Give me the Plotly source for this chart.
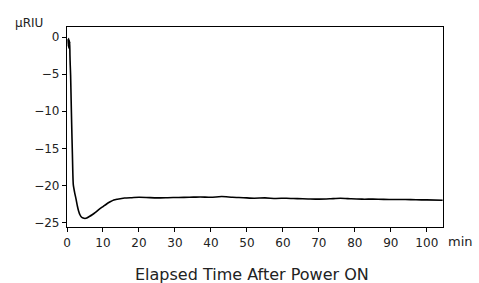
import plotly.graph_objects as go

# Elapsed time (min) and signal (µRIU)
time_min = [0.30, 0.38, 0.45, 0.52, 0.60, 0.68, 0.75, 0.82, 0.90, 1.0, 1.15, 1.3, 1.5, 1.75, 2.1,
            2.5, 2.9, 3.2, 3.6, 4.0, 4.5, 5.0, 5.5, 6.0, 7.0, 8.0, 9.0, 10.0, 11.0, 12.0,
            13.0, 14.0, 16.0, 18.0, 20.0, 22.0, 25.0, 28.0, 31.0, 34.0, 37.0, 40.0, 43.0,
            46.0, 49.0, 52.0, 55.0, 58.0, 61.0, 64.0, 67.0, 70.0, 73.0, 76.0, 79.0, 82.0,
            85.0, 88.0, 91.0, 94.0, 97.0, 100.0, 104.4]
signal_uriu = [-0.3, -1.3, -0.2, -1.5, -0.4, -1.2, -0.6, -2.5, -3.8, -5.1, -8.5, -11.8, -15.8, -19.9, -20.9,
               -21.8, -22.8, -23.4, -23.95, -24.25, -24.4, -24.45, -24.4, -24.25, -23.95, -23.6, -23.2, -22.85, -22.5, -22.2,
               -21.95, -21.85, -21.7, -21.65, -21.6, -21.62, -21.68, -21.65, -21.62, -21.6, -21.55, -21.6, -21.5,
               -21.6, -21.65, -21.72, -21.68, -21.75, -21.72, -21.78, -21.82, -21.85, -21.8, -21.72, -21.8, -21.85,
               -21.85, -21.88, -21.9, -21.9, -21.93, -21.95, -22.0]

x_ticks = [0, 10, 20, 30, 40, 50, 60, 70, 80, 90, 100]
y_ticks = [0, -5, -10, -15, -20, -25]

font_family = "DejaVu Sans"
text_color = "#222"

fig = go.Figure()
fig.add_trace(go.Scatter(x=time_min, y=signal_uriu, mode="lines",
                         line=dict(color="black", width=1.6, shape="spline", smoothing=0.6),
                         showlegend=False, hoverinfo="skip"))

axis_common = dict(ticks="outside", ticklen=4, tickcolor="black", showline=True,
                   linecolor="black", linewidth=1.2, mirror=True, showgrid=False,
                   zeroline=False, tickfont=dict(size=12, family=font_family, color=text_color))

fig.update_layout(
    width=479, height=283,
    margin=dict(l=67, r=36, t=27, b=56),
    paper_bgcolor="white", plot_bgcolor="white",
    font=dict(family=font_family, size=12, color=text_color),
    xaxis=dict(range=[0, 104.5], tickvals=x_ticks, **axis_common),
    yaxis=dict(range=[-25.6, 1.35], tickvals=y_ticks, **axis_common),
    annotations=[
        dict(text="μRIU", xref="paper", yref="paper", x=-0.1436, y=1.02, xanchor="left", yanchor="middle",
             showarrow=False, font=dict(size=12, family=font_family, color=text_color)),
        dict(text="min", xref="paper", yref="paper", x=1.008, y=-0.07, xanchor="left", yanchor="middle",
             showarrow=False, font=dict(size=13, family=font_family, color=text_color)),
        dict(text="Elapsed Time After Power ON", xref="paper", yref="paper", x=0.492, y=-0.235,
             xanchor="center", yanchor="middle", showarrow=False,
             font=dict(size=16, family=font_family, color=text_color)),
    ],
)

fig.write_html("out.html", config={"displayModeBar": False},
               post_script="document.body.style.margin='0';")
